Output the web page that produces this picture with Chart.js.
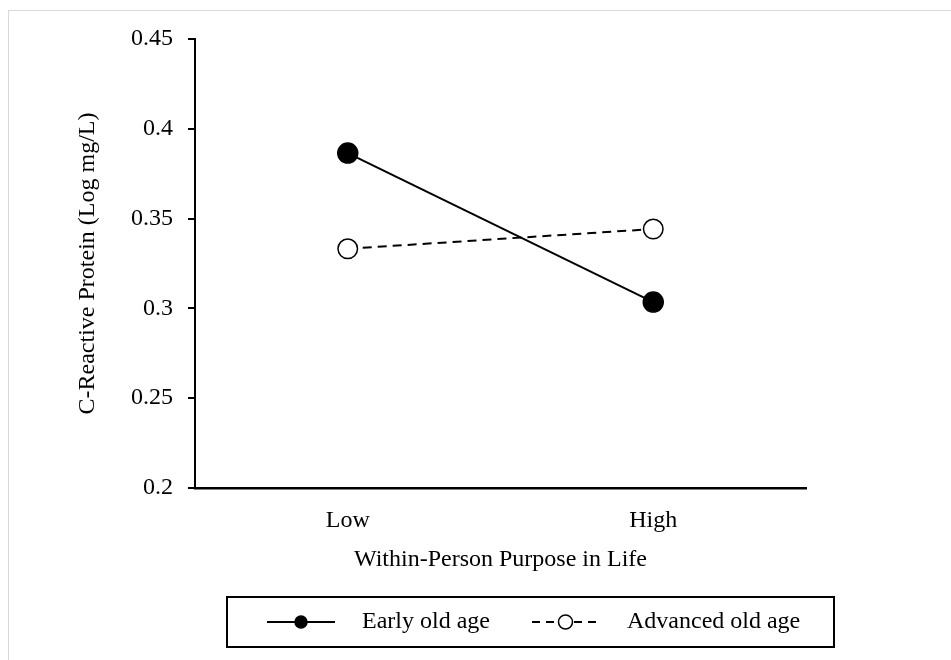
<!DOCTYPE html>
<html>
<head>
<meta charset="utf-8">
<title>CRP by purpose in life</title>
<script src="https://cdn.jsdelivr.net/npm/chart.js@4.4.0/dist/chart.umd.min.js"></script>
<style>
    html, body { margin: 0; padding: 0; background: #fff; overflow: hidden; }
    #frame { position: absolute; left: 8px; top: 10px; width: 980px; height: 700px; border: 1px solid #d9d9d9; }
    #wrap { position: absolute; left: 0; top: 0; width: 951px; height: 660px; }
</style>
</head>
<body>
<div id="frame"></div>
<div id="wrap"><canvas id="chartCrp"></canvas></div>
<script>
// ---- Data ----
const categories = ['Low', 'High'];
const seriesNames = ['Early old age', 'Advanced old age'];
const earlyOldAge = [0.3865, 0.3035];
const advancedOldAge = [0.3332, 0.3442];
const yTicks = [0.2, 0.25, 0.3, 0.35, 0.4, 0.45];

// ---- Legend layout (boxed legend under the axis title) ----
const legendFrame = { left: 227, top: 597, width: 607, height: 50 };
const legendSlots = [
    { lineX: 267, lineW: 68, textX: 362, dash: [], r: 6 },
    { lineX: 532, lineW: 67, textX: 627, dash: [8, 6], r: 7 }
];

const FONT = "'Liberation Serif', 'Times New Roman', serif";
Chart.defaults.font.family = FONT;
Chart.defaults.font.size = 24;
Chart.defaults.color = '#000';

const boxedLegend = {
    id: 'boxedLegend',
    afterDraw(chart) {
        const ctx = chart.ctx;
        const cy = legendFrame.top + legendFrame.height / 2;
        ctx.save();
        ctx.strokeStyle = '#000';
        ctx.lineWidth = 2;
        ctx.strokeRect(legendFrame.left, legendFrame.top, legendFrame.width, legendFrame.height);

        chart.data.datasets.forEach((ds, i) => {
            const s = legendSlots[i];
            ctx.setLineDash(s.dash);
            ctx.lineWidth = 2;
            ctx.beginPath();
            ctx.moveTo(s.lineX, cy);
            ctx.lineTo(s.lineX + s.lineW, cy);
            ctx.stroke();
            ctx.setLineDash([]);

            ctx.beginPath();
            ctx.arc(s.lineX + s.lineW / 2, cy, s.r, 0, Math.PI * 2);
            ctx.fillStyle = ds.pointBackgroundColor;
            ctx.fill();
            ctx.lineWidth = 1.5;
            ctx.stroke();

            ctx.fillStyle = '#000';
            ctx.font = '24px ' + FONT;
            ctx.textBaseline = 'middle';
            ctx.textAlign = 'left';
            ctx.fillText(ds.label, s.textX, cy);
        });
        ctx.restore();
    }
};

new Chart(document.getElementById('chartCrp'), {
    type: 'line',
    data: {
        labels: categories,
        datasets: [
            {
                label: seriesNames[0],
                data: earlyOldAge,
                borderColor: '#000',
                backgroundColor: '#000',
                borderWidth: 2,
                pointRadius: 10,
                pointBackgroundColor: '#000',
                pointBorderColor: '#000',
                pointBorderWidth: 1.5
            },
            {
                label: seriesNames[1],
                data: advancedOldAge,
                borderColor: '#000',
                backgroundColor: '#fff',
                borderWidth: 2,
                borderDash: [9, 6],
                pointRadius: 9.75,
                pointBackgroundColor: '#fff',
                pointBorderColor: '#000',
                pointBorderWidth: 1.5
            }
        ]
    },
    options: {
        responsive: true,
        maintainAspectRatio: false,
        animation: false,
        layout: { padding: { left: 60, right: 145, top: 39, bottom: 85.6 } },
        plugins: {
            legend: { display: false },
            tooltip: { enabled: false }
        },
        scales: {
            x: {
                offset: true,
                grid: { display: false, drawTicks: false },
                border: { display: true, color: '#000', width: 2.5 },
                ticks: { color: '#000', font: { size: 24 }, padding: 18 },
                title: {
                    display: true, text: 'Within-Person Purpose in Life', color: '#000',
                    font: { size: 24 }, padding: { top: -7.2, bottom: 0 }
                }
            },
            y: {
                min: 0.2,
                max: 0.45,
                afterBuildTicks: axis => { axis.ticks = yTicks.map(v => ({ value: v })); },
                ticks: { color: '#000', font: { size: 24 }, padding: 15, callback: v => String(+v.toFixed(2)) },
                grid: { display: true, drawOnChartArea: false, drawTicks: true, tickLength: 7, color: '#000', lineWidth: 2 },
                border: { display: true, color: '#000', width: 2 },
                title: {
                    display: true, text: 'C-Reactive Protein (Log mg/L)', color: '#000',
                    font: { size: 24 }, padding: { top: 13.6, bottom: 13.6 }
                }
            }
        }
    },
    plugins: [boxedLegend]
});
</script>
</body>
</html>
